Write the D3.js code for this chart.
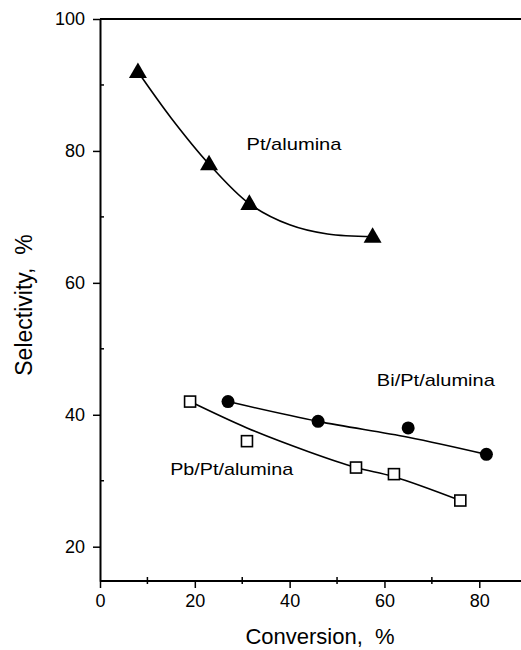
<!DOCTYPE html>
<html>
<head>
<meta charset="utf-8">
<script src="https://cdn.jsdelivr.net/npm/d3@7"></script>
<style>
  body { margin: 0; background: #fff; }
  text { font-family: "Liberation Sans", Arial, sans-serif; fill: #000; }
</style>
</head>
<body>
<div id="chart"></div>
<script>
// measured points
var ptConv = [8, 23, 31.5, 57.5];
var ptSel = [92, 78, 72, 67];
var biConv = [27, 46, 65, 81.5];
var biSel = [42, 39, 38, 34];
var pbConv = [19, 31, 54, 62, 76];
var pbSel = [42, 36, 32, 31, 27];

// hand drawn fit curves
var ptCurveX = [8, 15, 23, 31.5, 40, 48, 57.5];
var ptCurveY = [92, 85, 78, 72, 68.8, 67.4, 67];
var biCurveX = [27, 46, 65, 81.5];
var biCurveY = [42, 39, 36.6, 34];
var pbCurveX = [19, 31, 44, 54, 62, 76];
var pbCurveY = [42, 38, 34.4, 32, 30.6, 27];

var xTicks = [0, 20, 40, 60, 80];
var xMinor = [10, 30, 50, 70];
var yTicks = [20, 40, 60, 80, 100];
var yMinor = [30, 50, 70, 90];

var width = 521, height = 650;

var svg = d3.select("#chart").append("svg")
    .attr("width", width)
    .attr("height", height);

var x = d3.scaleLinear().domain([0, 88.8]).range([100, 521]);
var y = d3.scaleLinear().domain([14.8, 100]).range([581, 19]);

function zip(a, b) {
    return a.map(function (v, i) { return [v, b[i]]; });
}

// frame
svg.append("line").attr("x1", x(0)).attr("x2", width).attr("y1", y(100)).attr("y2", y(100))
    .attr("stroke", "#000").attr("stroke-width", 2);

var xAxis = d3.axisBottom(x).tickValues(xTicks).tickSize(7).tickPadding(6).tickSizeOuter(0)
    .tickFormat(d3.format("d"));
var gx = svg.append("g").attr("transform", "translate(0," + y(14.8) + ")").call(xAxis);
gx.select(".domain").attr("stroke-width", 2).attr("d", "M" + x(0) + ",0H" + width);
gx.selectAll("text").attr("font-size", 18).attr("font-family", "Liberation Sans, Arial, sans-serif").attr("fill", "#000");
gx.selectAll(".tick line").attr("stroke-width", 1.5);
gx.selectAll(".minor").data(xMinor).enter().append("line")
    .attr("x1", function (d) { return x(d); }).attr("x2", function (d) { return x(d); })
    .attr("y1", -4).attr("y2", 3).attr("stroke", "#000").attr("stroke-width", 1.5);

var yAxis = d3.axisLeft(y).tickValues(yTicks).tickSize(7).tickPadding(8).tickSizeOuter(0)
    .tickFormat(d3.format("d"));
var gy = svg.append("g").attr("transform", "translate(" + x(0) + ",0)").call(yAxis);
gy.select(".domain").attr("stroke-width", 2);
gy.selectAll("text").attr("font-size", 18).attr("font-family", "Liberation Sans, Arial, sans-serif").attr("fill", "#000");
gy.selectAll(".tick line").attr("stroke-width", 1.5);
gy.selectAll(".minor").data(yMinor).enter().append("line")
    .attr("x1", 0).attr("x2", 4)
    .attr("y1", function (d) { return y(d); }).attr("y2", function (d) { return y(d); })
    .attr("stroke", "#000").attr("stroke-width", 1.5);

// curves
var line = d3.line()
    .x(function (d) { return x(d[0]); })
    .y(function (d) { return y(d[1]); })
    .curve(d3.curveCatmullRom.alpha(0.5));

[[ptCurveX, ptCurveY], [biCurveX, biCurveY], [pbCurveX, pbCurveY]].forEach(function (c) {
    svg.append("path")
        .attr("d", line(zip(c[0], c[1])))
        .attr("fill", "none")
        .attr("stroke", "#000")
        .attr("stroke-width", 1.6);
});

// markers
svg.selectAll(".tri").data(zip(ptConv, ptSel)).enter().append("path")
    .attr("class", "tri")
    .attr("d", d3.symbol().type(d3.symbolTriangle).size(140))
    .attr("transform", function (d) { return "translate(" + x(d[0]) + "," + (y(d[1]) + 1) + ")"; })
    .attr("fill", "#000");

svg.selectAll(".dot").data(zip(biConv, biSel)).enter().append("circle")
    .attr("class", "dot")
    .attr("cx", function (d) { return x(d[0]); })
    .attr("cy", function (d) { return y(d[1]); })
    .attr("r", 6.5)
    .attr("fill", "#000");

svg.selectAll(".sq").data(zip(pbConv, pbSel)).enter().append("rect")
    .attr("class", "sq")
    .attr("x", function (d) { return x(d[0]) - 5.5; })
    .attr("y", function (d) { return y(d[1]) - 5.5; })
    .attr("width", 11)
    .attr("height", 11)
    .attr("fill", "#fff")
    .attr("stroke", "#000")
    .attr("stroke-width", 1.6);

// series labels
var labels = [
    { t: "Pt/alumina", cx: 30.9, cy: 80.2, w: 95 },
    { t: "Bi/Pt/alumina", cx: 58.4, cy: 44.4, w: 118 },
    { t: "Pb/Pt/alumina", cx: 14.8, cy: 30.8, w: 123 }
];
svg.selectAll(".lbl").data(labels).enter().append("text")
    .attr("x", function (d) { return x(d.cx); })
    .attr("y", function (d) { return y(d.cy); })
    .attr("font-size", 17)
    .attr("textLength", function (d) { return d.w; })
    .attr("lengthAdjust", "spacingAndGlyphs")
    .text(function (d) { return d.t; });

// axis titles
svg.append("text")
    .attr("x", 320).attr("y", 644)
    .attr("text-anchor", "middle")
    .attr("font-size", 22)
    .style("white-space", "pre")
    .text("Conversion,  %");

svg.append("text")
    .attr("transform", "translate(32,305) rotate(-90)")
    .attr("text-anchor", "middle")
    .attr("font-size", 23)
    .style("white-space", "pre")
    .text("Selectivity,  %");
</script>
</body>
</html>
